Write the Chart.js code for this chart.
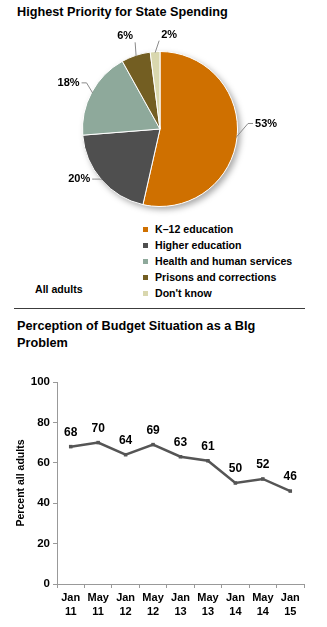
<!DOCTYPE html>
<html>
<head>
<meta charset="utf-8">
<script src="https://cdn.jsdelivr.net/npm/chart.js@4.4.0/dist/chart.umd.min.js"></script>
<style>
	body { margin: 0; background: #fff; }
	#page { position: relative; width: 327px; height: 627px; overflow: hidden; font-family: "Liberation Sans", Arial, sans-serif; font-weight: bold; color: #000; }
	.title { position: absolute; left: 17px; font-size: 12.7px; line-height: 16.5px; margin: 0; }
	#legend { position: absolute; left: 143px; top: 221px; font-size: 10.6px; }
	#legend div { height: 16px; line-height: 16px; white-space: nowrap; }
	#legend span { display: inline-block; width: 5px; height: 5px; margin-right: 7px; vertical-align: 1px; }
	#group { position: absolute; left: 35px; top: 283px; font-size: 10.6px; }
	#rule { position: absolute; left: 14px; top: 308px; width: 291px; border-top: 1.5px solid #3c3c3c; }
	canvas { position: absolute; left: 0; }
</style>
</head>
<body>
<div id="page">
	<p class="title" style="top: 4px;">Highest Priority for State Spending</p>
	<canvas id="pie" width="327" height="220" style="top: 0;"></canvas>
	<div id="legend"></div>
	<div id="group">All adults</div>
	<div id="rule"></div>
	<p class="title" style="top: 318px;">Perception of Budget Situation as a BIg<br>Problem</p>
	<canvas id="line" width="327" height="267" style="top: 360px;"></canvas>
</div>
<script>
// spending priorities, share of all adults (%)
const priorities = [ "K\u201312 education", "Higher education", "Health and human services", "Prisons and corrections", "Don't know" ];
const priorityShares = [ 53, 20, 18, 6, 2 ];
const priorityColors = [ "#cf7000", "#4f4f4f", "#8ea99b", "#735e22", "#d9d7ae" ];

// budget situation seen as a big problem (%)
const surveyDates = [ [ "Jan", "11" ], [ "May", "11" ], [ "Jan", "12" ], [ "May", "12" ], [ "Jan", "13" ], [ "May", "13" ], [ "Jan", "14" ], [ "May", "14" ], [ "Jan", "15" ] ];
const bigProblem = [ 68, 70, 64, 69, 63, 61, 50, 52, 46 ];
const yTicks = [ 0, 20, 40, 60, 80, 100 ];

// leader elbow relative to the slice edge; side is where the text goes
const leaderStyle = [
	  { dx: 12, dy: -14, tail: 5, side: 1 }
	, { dx: -8, dy: 0, tail: 2, side: -1 }
	, { dx: -6, dy: -10, tail: 5, side: -1 }
	, { dx: -1, dy: -14, tail: 0, side: -1, above: true }
	, { dx: 4, dy: -12, tail: 0, side: 1, above: true }
];

const legend = document.getElementById( "legend" );
priorities.forEach( ( name, i ) => {
	const row = document.createElement( "div" );
	const box = document.createElement( "span" );
	box.style.background = priorityColors[ i ];
	row.appendChild( box );
	row.appendChild( document.createTextNode( name ) );
	legend.appendChild( row );
} );

const pieShadow = {
	id: "pieShadow",
	beforeDatasetsDraw( chart ) {
		const arc = chart.getDatasetMeta( 0 ).data[ 0 ];
		const { x, y, outerRadius } = arc.getProps( [ "x", "y", "outerRadius" ], true );
		const ctx = chart.ctx;
		ctx.save();
		ctx.shadowColor = "rgba(0,0,0,0.35)";
		ctx.shadowBlur = 6;
		ctx.shadowOffsetX = 3;
		ctx.shadowOffsetY = 3;
		ctx.fillStyle = "#fff";
		ctx.beginPath();
		ctx.arc( x, y, outerRadius, 0, Math.PI * 2 );
		ctx.fill();
		ctx.restore();
	}
};

const pieLabels = {
	id: "pieLabels",
	afterDatasetsDraw( chart ) {
		const ctx = chart.ctx;
		ctx.save();
		ctx.font = "bold 11px 'Liberation Sans', Arial, sans-serif";
		ctx.fillStyle = "#000";
		ctx.strokeStyle = "#8a8a8a";
		ctx.lineWidth = 1;
		ctx.textBaseline = "middle";
		chart.getDatasetMeta( 0 ).data.forEach( ( arc, i ) => {
			const { x, y, outerRadius, startAngle, endAngle } = arc.getProps( [ "x", "y", "outerRadius", "startAngle", "endAngle" ], true );
			const mid = ( startAngle + endAngle ) / 2;
			const s = leaderStyle[ i ];
			const ex = x + Math.cos( mid ) * ( outerRadius - 1 );
			const ey = y + Math.sin( mid ) * ( outerRadius - 1 );
			const kx = ex + s.dx, ky = ey + s.dy;
			const tx = kx + s.side * s.tail;
			ctx.beginPath();
			ctx.moveTo( ex, ey );
			ctx.lineTo( kx, ky );
			ctx.lineTo( tx, ky );
			ctx.stroke();
			ctx.textAlign = s.side > 0 ? "left" : "right";
			const text = priorityShares[ i ] + "%";
			if ( s.above ) {
				ctx.fillText( text, kx + s.side * 2, ky - 6 );
			} else {
				ctx.fillText( text, tx + s.side * 2, ky );
			}
		} );
		ctx.restore();
	}
};

new Chart( document.getElementById( "pie" ), {
	  type: "pie"
	, data: {
		  labels: priorities
		, datasets: [ {
			  data: priorityShares
			, backgroundColor: priorityColors
			, borderColor: "#ffffff"
			, borderWidth: 1
		} ]
	}
	, options: {
		  responsive: false
		, animation: false
		, layout: { padding: { top: 51, bottom: 13, left: 81, right: 88 } }
		, plugins: { legend: { display: false }, tooltip: { enabled: false } }
	}
	, plugins: [ pieShadow, pieLabels ]
} );

const pointLabels = {
	id: "pointLabels",
	afterDatasetsDraw( chart ) {
		const ctx = chart.ctx;
		ctx.save();
		ctx.font = "bold 12px 'Liberation Sans', Arial, sans-serif";
		ctx.fillStyle = "#000";
		ctx.textAlign = "center";
		ctx.textBaseline = "middle";
		chart.getDatasetMeta( 0 ).data.forEach( ( pt, i ) => {
			ctx.fillText( bigProblem[ i ], pt.x, pt.y - 14 );
		} );
		ctx.restore();
	}
};

const tickFont = { family: "'Liberation Sans', Arial, sans-serif", weight: "bold" };

new Chart( document.getElementById( "line" ), {
	  type: "line"
	, data: {
		  labels: surveyDates
		, datasets: [ {
			  data: bigProblem
			, borderColor: "#555555"
			, borderWidth: 2.5
			, pointStyle: "rect"
			, pointRadius: 2.5
			, pointBackgroundColor: "#555555"
			, pointBorderWidth: 0
			, tension: 0
		} ]
	}
	, options: {
		  responsive: false
		, animation: false
		, layout: { padding: { top: 22, right: 23, left: 0, bottom: 0 } }
		, plugins: { legend: { display: false }, tooltip: { enabled: false } }
		, scales: {
			  x: {
				  offset: true
				, grid: { drawOnChartArea: false, offset: true, tickLength: 4, color: "#999" }
				, border: { color: "#999", width: 1 }
				, ticks: { autoSkip: false, maxRotation: 0, padding: 3, color: "#000", font: { ...tickFont, size: 11, lineHeight: 1.25 } }
				, afterFit: scale => { scale.height = 43; }
			}
			, y: {
				  min: 0
				, max: 100
				, afterBuildTicks: scale => { scale.ticks = yTicks.map( v => ( { value: v } ) ); }
				, grid: { drawOnChartArea: false, tickLength: 4, color: "#999" }
				, border: { color: "#999", width: 1 }
				, ticks: { padding: 3, color: "#000", font: { ...tickFont, size: 11.5 } }
				, title: { display: true, text: "Percent all adults", color: "#000", padding: { top: 15, bottom: 0 }, font: { ...tickFont, size: 10.5 } }
				, afterFit: scale => { scale.width = 57; }
			}
		}
	}
	, plugins: [ pointLabels ]
} );
</script>
</body>
</html>
